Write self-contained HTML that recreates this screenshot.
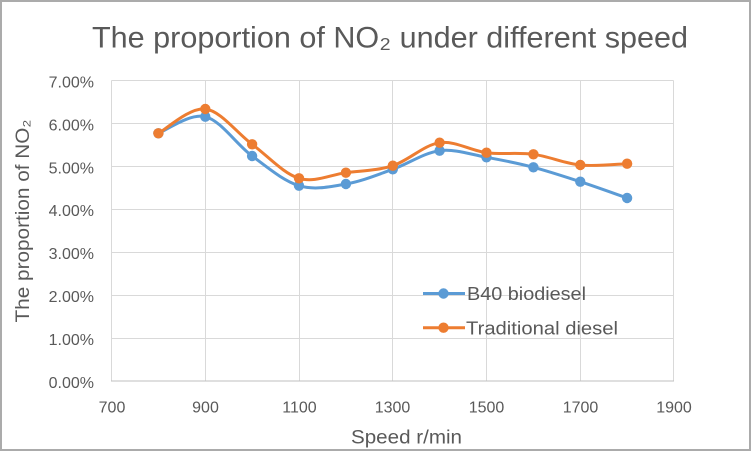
<!DOCTYPE html>
<html>
<head>
<meta charset="utf-8">
<style>
  html, body { margin:0; padding:0; background:#ffffff; }
  svg { display:block; }
  text { font-family: "Liberation Sans", "DejaVu Sans", sans-serif; fill:#595959; }
</style>
</head>
<body>
<svg width="752" height="452" viewBox="0 0 752 452" xmlns="http://www.w3.org/2000/svg">
  <rect x="0" y="0" width="752" height="452" fill="#ffffff"/>
  <rect x="1" y="1" width="749" height="449" fill="none" stroke="#ababab" stroke-width="2"/>

  <!-- Title -->
  <text x="92" y="47.5" font-size="30" textLength="596" lengthAdjust="spacingAndGlyphs">The proportion of NO₂ under different speed</text>

  <!-- Gridlines -->
  <g stroke="#d9d9d9" stroke-width="1" fill="none">
    <line x1="111.5" y1="80.5" x2="673.5" y2="80.5"/>
    <line x1="111.5" y1="123.5" x2="673.5" y2="123.5"/>
    <line x1="111.5" y1="166.5" x2="673.5" y2="166.5"/>
    <line x1="111.5" y1="209.5" x2="673.5" y2="209.5"/>
    <line x1="111.5" y1="252.5" x2="673.5" y2="252.5"/>
    <line x1="111.5" y1="295.5" x2="673.5" y2="295.5"/>
    <line x1="111.5" y1="338.5" x2="673.5" y2="338.5"/>
    <line x1="111.5" y1="80.5" x2="111.5" y2="381"/>
    <line x1="205.5" y1="80.5" x2="205.5" y2="381"/>
    <line x1="299.5" y1="80.5" x2="299.5" y2="381"/>
    <line x1="392.5" y1="80.5" x2="392.5" y2="381"/>
    <line x1="486.5" y1="80.5" x2="486.5" y2="381"/>
    <line x1="580.5" y1="80.5" x2="580.5" y2="381"/>
    <line x1="673.5" y1="80.5" x2="673.5" y2="381"/>
  </g>
  <line x1="111" y1="381" x2="674" y2="381" stroke="#bfbfbf" stroke-width="1"/>

  <!-- Y tick labels -->
  <g font-size="16" text-anchor="end">
    <text x="94" y="87.5">7.00%</text>
    <text x="94" y="130.4">6.00%</text>
    <text x="94" y="173.3">5.00%</text>
    <text x="94" y="216.2">4.00%</text>
    <text x="94" y="259.1">3.00%</text>
    <text x="94" y="302">2.00%</text>
    <text x="94" y="344.9">1.00%</text>
    <text x="94" y="387.8">0.00%</text>
  </g>

  <!-- X tick labels -->
  <g font-size="16" text-anchor="middle">
    <text x="112" y="412.5">700</text>
    <text x="205.5" y="412.5">900</text>
    <text x="299.5" y="412.5">1100</text>
    <text x="392.5" y="412.5">1300</text>
    <text x="486.5" y="412.5">1500</text>
    <text x="580.5" y="412.5">1700</text>
    <text x="674" y="412.5">1900</text>
  </g>

  <!-- Axis titles -->
  <text x="351" y="443.5" font-size="19" textLength="111" lengthAdjust="spacingAndGlyphs">Speed r/min</text>
  <text transform="translate(29,221) rotate(-90)" font-size="19" text-anchor="middle" textLength="203" lengthAdjust="spacingAndGlyphs">The proportion of NO₂</text>

  <!-- Blue series: B40 biodiesel -->
  <path d="M158.4,133.3 C166.2,130.5 189.7,112.9 205.3,116.7 C220.9,120.5 236.5,144.5 252.1,156 C267.7,167.5 283.4,181.0 299.0,185.7 C314.6,190.4 330.3,186.7 345.9,184 C361.5,181.3 377.1,174.9 392.8,169.3 C408.4,163.8 424.0,152.7 439.6,150.7 C455.3,148.7 470.9,154.5 486.5,157.3 C502.1,160.1 517.8,163.2 533.4,167.3 C549.0,171.4 564.6,176.6 580.3,181.7 C595.9,186.8 619.3,195.3 627.1,198" fill="none" stroke="#5b9bd5" stroke-width="3" stroke-linecap="round" stroke-linejoin="round"/>
  <g fill="#5b9bd5">
    <circle cx="158.4" cy="133.3" r="5.2"/>
    <circle cx="205.3" cy="116.7" r="5.2"/>
    <circle cx="252.1" cy="156" r="5.2"/>
    <circle cx="299.0" cy="185.7" r="5.2"/>
    <circle cx="345.9" cy="184" r="5.2"/>
    <circle cx="392.8" cy="169.3" r="5.2"/>
    <circle cx="439.6" cy="150.7" r="5.2"/>
    <circle cx="486.5" cy="157.3" r="5.2"/>
    <circle cx="533.4" cy="167.3" r="5.2"/>
    <circle cx="580.3" cy="181.7" r="5.2"/>
    <circle cx="627.1" cy="198" r="5.2"/>
  </g>

  <!-- Orange series: Traditional diesel -->
  <path d="M158.4,133.3 C166.2,129.25 189.7,107.17 205.3,109 C220.9,110.83 236.5,132.75 252.1,144.3 C267.7,155.85 283.4,173.57 299.0,178.3 C314.6,183.03 330.3,174.8 345.9,172.7 C361.5,170.6 377.1,170.7 392.8,165.7 C408.4,160.7 424.0,144.87 439.6,142.7 C455.3,140.53 470.9,150.77 486.5,152.7 C502.1,154.63 517.8,152.25 533.4,154.3 C549.0,156.35 564.6,163.43 580.3,165 C595.9,166.57 619.3,163.92 627.1,163.7" fill="none" stroke="#ed7d31" stroke-width="3" stroke-linecap="round" stroke-linejoin="round"/>
  <g fill="#ed7d31">
    <circle cx="158.4" cy="133.3" r="5.2"/>
    <circle cx="205.3" cy="109" r="5.2"/>
    <circle cx="252.1" cy="144.3" r="5.2"/>
    <circle cx="299.0" cy="178.3" r="5.2"/>
    <circle cx="345.9" cy="172.7" r="5.2"/>
    <circle cx="392.8" cy="165.7" r="5.2"/>
    <circle cx="439.6" cy="142.7" r="5.2"/>
    <circle cx="486.5" cy="152.7" r="5.2"/>
    <circle cx="533.4" cy="154.3" r="5.2"/>
    <circle cx="580.3" cy="165" r="5.2"/>
    <circle cx="627.1" cy="163.7" r="5.2"/>
  </g>

  <!-- Legend -->
  <line x1="423" y1="293.5" x2="465" y2="293.5" stroke="#5b9bd5" stroke-width="3"/>
  <circle cx="443.5" cy="293.5" r="5.2" fill="#5b9bd5"/>
  <text x="467" y="300" font-size="18" textLength="119" lengthAdjust="spacingAndGlyphs">B40 biodiesel</text>

  <line x1="423" y1="327.7" x2="465" y2="327.7" stroke="#ed7d31" stroke-width="3"/>
  <circle cx="443.5" cy="327.7" r="5.2" fill="#ed7d31"/>
  <text x="466" y="334.3" font-size="18" textLength="152" lengthAdjust="spacingAndGlyphs">Traditional diesel</text>
</svg>
</body>
</html>
